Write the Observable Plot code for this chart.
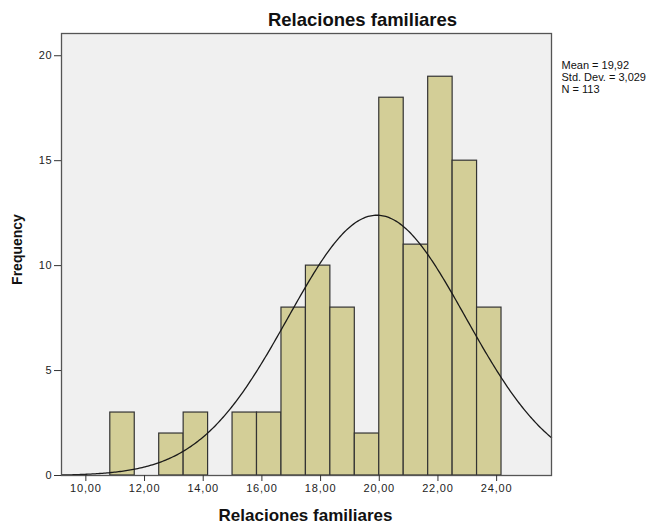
<!DOCTYPE html>
<html>
<head>
<meta charset="utf-8">
<script src="https://cdn.jsdelivr.net/npm/d3@7"></script>
<script src="https://cdn.jsdelivr.net/npm/@observablehq/plot@0.6"></script>
<style>
  html, body { margin: 0; padding: 0; background: #ffffff; }
</style>
</head>
<body>
<div id="chart"></div>
<script>
// ---- data ----
const chartTitle = "Relaciones familiares";
const xLabel = "Relaciones familiares";
const yLabel = "Frequency";
// lower edges of the histogram bins (bin width 5/6)
const binLower = [10.833, 11.667, 12.5, 13.333, 14.167, 15.0, 15.833, 16.667,
                  17.5, 18.333, 19.167, 20.0, 20.833, 21.667, 22.5, 23.333];
const binWidth = 0.8333;
const counts = [3, 0, 2, 3, 0, 3, 3, 8, 10, 8, 2, 18, 11, 19, 15, 8];
const xTicks = [10, 12, 14, 16, 18, 20, 22, 24];
const yTicks = [0, 5, 10, 15, 20];
const statMean = 19.92;
const statSD = 3.029;
const statN = 113;
const statsLabel = ["Mean = 19,92", "Std. Dev. = 3,029", "N = 113"];

// ---- derived tables ----
const bars = binLower.map((x1, i) => ({x1, x2: x1 + binWidth, count: counts[i]}))
  .filter(d => d.count > 0);

const xDomain = [9.17, 25.87];
// fitted normal curve (from the stated mean, sd, N and bin width)
const curve = d3.range(xDomain[0], xDomain[1] + 1e-9, 0.05).map(x => ({
  x,
  y: statN * binWidth / (statSD * Math.sqrt(2 * Math.PI)) *
     Math.exp(-0.5 * ((x - statMean) / statSD) ** 2)
}));

const fmt = d => d.toFixed(2).replace(".", ",");

const svg = Plot.plot({
  width: 660,
  height: 527,
  marginLeft: 61,
  marginRight: 109,
  marginTop: 33,
  marginBottom: 52,
  style: {fontFamily: "'Liberation Sans', Arial, sans-serif", fontSize: "11px", background: "#ffffff", color: "#222"},
  x: {domain: xDomain},
  y: {domain: [0, 21.06]},
  marks: [
    Plot.frame({fill: "#f0f0f0"}),
    Plot.rectY(bars, {x1: "x1", x2: "x2", y: "count", fill: "#d3ce97", stroke: "#333333", strokeWidth: 1.2}),
    Plot.line(curve, {x: "x", y: "y", stroke: "#1a1a1a", strokeWidth: 1.3, curve: "linear"}),
    Plot.frame({stroke: "#555555", strokeWidth: 1.3}),
    Plot.axisX({ticks: xTicks, tickFormat: fmt, tickSize: 6, tickPadding: 3, label: null, stroke: "#333"}),
    Plot.axisY({ticks: yTicks, tickFormat: d => String(d), tickSize: 7, tickPadding: 2, label: null, stroke: "#333"}),
    Plot.text([chartTitle], {text: d => d, frameAnchor: "top", dx: 56, dy: -13, lineAnchor: "middle",
      fontSize: 18.5, fontWeight: "bold", fill: "#111", ariaLabel: "title"}),
    Plot.text([xLabel], {text: d => d, frameAnchor: "bottom", dx: -1, dy: 40, lineAnchor: "middle",
      fontSize: 17, fontWeight: "bold", fill: "#111", ariaLabel: "xlabel"}),
    Plot.text([yLabel], {text: d => d, frameAnchor: "left", textAnchor: "middle", rotate: -90, dx: -43.5, dy: -5,
      lineAnchor: "middle", fontSize: 14, fontWeight: "bold", fill: "#111", ariaLabel: "ylabel"}),
    Plot.text([statsLabel.join("\n")], {text: d => d, frameAnchor: "top-right", textAnchor: "start",
      lineAnchor: "top", dx: 10, dy: 27.5, lineHeight: 1.06, fontSize: 11, fill: "#111", ariaLabel: "stats"})
  ]
});

d3.select(svg).selectAll('g[aria-label="x-axis tick label"] text, g[aria-label="y-axis tick label"] text')
  .style("letter-spacing", "0.8px").style("font-size", "11px");
d3.select(svg).selectAll('g[aria-label="stats"] text').style("letter-spacing", "0.7px");
d3.select(svg).selectAll('g[aria-label="xlabel"] text').style("letter-spacing", "0.3px");
d3.select(svg).selectAll('g[aria-label="ylabel"] text').style("letter-spacing", "0.2px");

document.getElementById("chart").appendChild(svg);
</script>
</body>
</html>
